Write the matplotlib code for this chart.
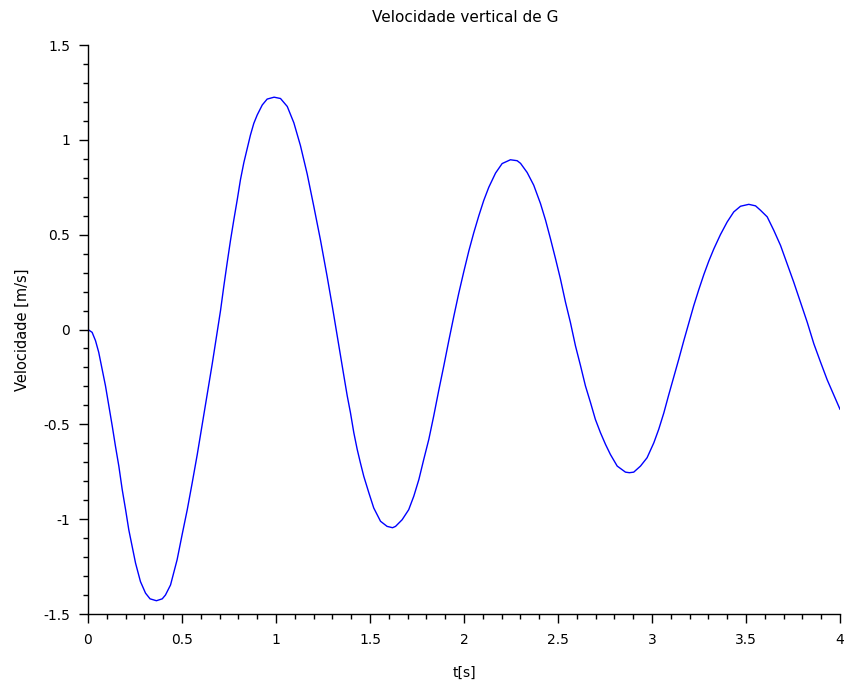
import matplotlib
matplotlib.use("Agg")
import matplotlib.pyplot as plt
from matplotlib.ticker import MultipleLocator, FuncFormatter

# Time [s]
t = [0.000, 0.022, 0.040, 0.057, 0.075, 0.093, 0.111, 0.129, 0.146, 0.164,
     0.182, 0.200, 0.217, 0.235, 0.253, 0.279, 0.306, 0.330, 0.364, 0.395,
     0.412, 0.439, 0.474, 0.501, 0.528, 0.554, 0.581, 0.607, 0.634, 0.661,
     0.687, 0.705, 0.722, 0.740, 0.758, 0.776, 0.794, 0.811, 0.829, 0.847,
     0.864, 0.882, 0.900, 0.927, 0.953, 0.990, 1.024, 1.060, 1.095, 1.130,
     1.166, 1.201, 1.237, 1.272, 1.300, 1.325, 1.343, 1.361, 1.379, 1.396,
     1.414, 1.432, 1.449, 1.467, 1.494, 1.520, 1.556, 1.591, 1.620, 1.636,
     1.671, 1.706, 1.733, 1.760, 1.786, 1.813, 1.839, 1.866, 1.893, 1.919,
     1.946, 1.972, 1.999, 2.026, 2.052, 2.079, 2.105, 2.132, 2.168, 2.203,
     2.247, 2.283, 2.301, 2.336, 2.371, 2.407, 2.434, 2.460, 2.487, 2.513,
     2.540, 2.566, 2.593, 2.620, 2.646, 2.673, 2.699, 2.726, 2.753, 2.779,
     2.815, 2.859, 2.880, 2.903, 2.939, 2.974, 3.010, 3.036, 3.063, 3.089,
     3.116, 3.143, 3.169, 3.196, 3.222, 3.249, 3.276, 3.302, 3.329, 3.364,
     3.400, 3.435, 3.471, 3.515, 3.551, 3.577, 3.613, 3.648, 3.684, 3.719,
     3.754, 3.790, 3.826, 3.861, 3.896, 3.932, 3.967, 4.000]

# Vertical velocity [m/s]
v = [0.000, -0.015, -0.059, -0.120, -0.209, -0.297, -0.403, -0.509, -0.615, -0.720,
     -0.844, -0.950, -1.056, -1.144, -1.232, -1.329, -1.390, -1.420, -1.430, -1.420,
     -1.400, -1.347, -1.214, -1.080, -0.950, -0.810, -0.660, -0.505, -0.345, -0.180,
     -0.015, 0.100, 0.225, 0.350, 0.470, 0.580, 0.685, 0.790, 0.880, 0.955,
     1.025, 1.087, 1.131, 1.184, 1.215, 1.225, 1.218, 1.176, 1.090, 0.970,
     0.820, 0.650, 0.470, 0.280, 0.120, -0.030, -0.139, -0.244, -0.350, -0.438,
     -0.544, -0.632, -0.703, -0.774, -0.861, -0.941, -1.011, -1.038, -1.045, -1.038,
     -1.003, -0.950, -0.879, -0.791, -0.685, -0.579, -0.456, -0.320, -0.190, -0.060,
     0.070, 0.190, 0.305, 0.415, 0.510, 0.600, 0.680, 0.750, 0.825, 0.875,
     0.895, 0.890, 0.876, 0.828, 0.761, 0.664, 0.576, 0.479, 0.373, 0.267,
     0.144, 0.038, -0.086, -0.191, -0.297, -0.385, -0.474, -0.544, -0.606, -0.659,
     -0.720, -0.752, -0.755, -0.752, -0.720, -0.676, -0.597, -0.526, -0.440, -0.345,
     -0.250, -0.155, -0.060, 0.035, 0.125, 0.210, 0.290, 0.360, 0.425, 0.500,
     0.567, 0.620, 0.650, 0.660, 0.652, 0.629, 0.594, 0.523, 0.443, 0.347,
     0.250, 0.144, 0.038, -0.075, -0.170, -0.265, -0.345, -0.420]

title = "Velocidade vertical de G"
xlabel = "t[s]"
ylabel = "Velocidade [m/s]"

plt.rcParams['font.family'] = ['DejaVu Sans']

fig = plt.figure(figsize=(8.49, 6.89), dpi=100)
ax = fig.add_axes([0.10365, 0.10885, 0.8857, 0.8258])

ax.plot(t, v, color=(0, 0, 1), linewidth=1.0)

ax.set_xlim(0, 4)
ax.set_ylim(-1.5, 1.5)
ax.spines['top'].set_visible(False)
ax.spines['right'].set_visible(False)
for s in ('left', 'bottom'):
    ax.spines[s].set_linewidth(1.0)

ax.xaxis.set_major_locator(MultipleLocator(0.5))
ax.xaxis.set_minor_locator(MultipleLocator(0.1))
ax.yaxis.set_major_locator(MultipleLocator(0.5))
ax.yaxis.set_minor_locator(MultipleLocator(0.1))
fmt = FuncFormatter(lambda x, p: "%g" % round(x, 3))
ax.xaxis.set_major_formatter(fmt)
ax.yaxis.set_major_formatter(fmt)

ax.tick_params(which='major', direction='out', length=6.5, width=1.0, labelsize=10)
ax.tick_params(which='minor', direction='out', length=3.5, width=1.0)
ax.tick_params(axis='x', which='major', pad=7.5)
ax.tick_params(axis='y', which='major', pad=6.5)

ax.set_xlabel(xlabel, fontsize=10)
ax.xaxis.set_label_coords(0.5, -0.103)
ax.xaxis.label.set_verticalalignment('center')
ax.set_ylabel(ylabel, fontsize=10.5)
ax.yaxis.set_label_coords(-0.088, 0.5)
ax.yaxis.label.set_verticalalignment('center')

fig.text(0.5477, 0.974, title, ha='center', va='center', fontsize=11)

fig.savefig("out.png", dpi=100)
